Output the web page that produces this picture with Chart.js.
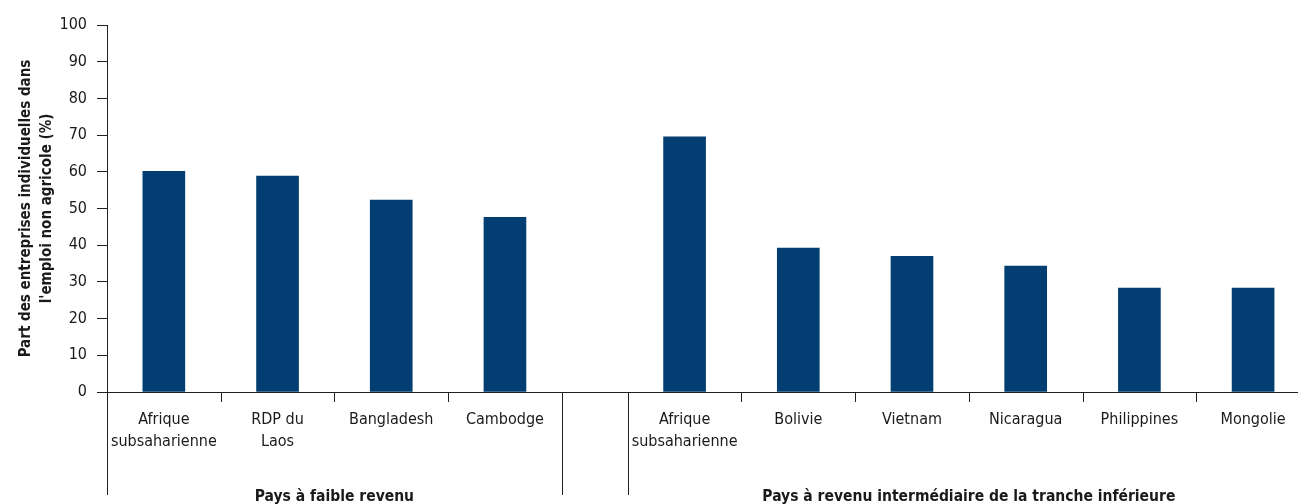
<!DOCTYPE html>
<html>
<head>
<meta charset="utf-8">
<script src="https://cdn.jsdelivr.net/npm/chart.js@4"></script>
<style>
html,body{margin:0;padding:0;background:#fff;}
#wrap{width:1298px;height:504px;}
</style>
</head>
<body>
<div id="wrap"><canvas id="c" width="1298" height="504"></canvas></div>
<script>
// ---- data ----
const groupNames = ['Pays à faible revenu', 'Pays à revenu intermédiaire de la tranche inférieure'];
const lowIncomeLabels = [['Afrique', 'subsaharienne'], ['RDP du', 'Laos'], 'Bangladesh', 'Cambodge'];
const lowIncomeValues = [60.1, 58.8, 52.3, 47.6];
const lowerMiddleLabels = [['Afrique', 'subsaharienne'], 'Bolivie', 'Vietnam', 'Nicaragua', 'Philippines', 'Mongolie'];
const lowerMiddleValues = [69.5, 39.2, 37.0, 34.3, 28.3, 28.3];
const yTitle = ['Part des entreprises individuelles dans', "l'emploi non agricole (%)"];

// ---- layout helpers (category index positions on a linear axis) ----
const GAP = 0.58;             // width of the empty slot between the two groups, in category units
const X_MAX = 10.475;         // visible extent of the category axis, in category units
const g2Start = lowIncomeValues.length + GAP;
const points = [];
const tickLabels = [];
lowIncomeValues.forEach((v, i) => { points.push({x: i + 0.5, y: v}); tickLabels.push(lowIncomeLabels[i]); });
lowerMiddleValues.forEach((v, i) => { points.push({x: g2Start + i + 0.5, y: v}); tickLabels.push(lowerMiddleLabels[i]); });
const tickPositions = points.map(p => p.x);

const FONT = "'Liberation Sans Narrow', 'DejaVu Sans Condensed', 'Roboto Condensed', sans-serif";
const TEXT = '#1a1a1a';
const LINE = '#222222';

const groupsPlugin = {
  id: 'groups',
  afterDraw(chart) {
    const {ctx, scales: {x, y}} = chart;
    const y0 = y.getPixelForValue(0);
    const sepBottom = 495;
    ctx.save();
    ctx.strokeStyle = LINE;
    ctx.lineWidth = 1;
    // small tick marks between categories
    const inner = [];
    for (let i = 1; i < lowIncomeValues.length; i++) inner.push(i);
    for (let i = 1; i < lowerMiddleValues.length; i++) inner.push(g2Start + i);
    inner.forEach(v => {
      const px = Math.round(x.getPixelForValue(v)) + 0.5;
      ctx.beginPath(); ctx.moveTo(px, y0); ctx.lineTo(px, y0 + 10); ctx.stroke();
    });
    // long separators
    [0, lowIncomeValues.length, g2Start].forEach(v => {
      const px = Math.round(x.getPixelForValue(v)) + 0.5;
      ctx.beginPath(); ctx.moveTo(px, y0); ctx.lineTo(px, sepBottom); ctx.stroke();
    });
    // group labels
    ctx.fillStyle = TEXT;
    ctx.font = "bold 15.5px " + FONT;
    ctx.textAlign = 'center';
    ctx.textBaseline = 'alphabetic';
    const c1 = (x.getPixelForValue(0) + x.getPixelForValue(lowIncomeValues.length)) / 2;
    const c2 = (x.getPixelForValue(g2Start) + x.getPixelForValue(g2Start + lowerMiddleValues.length)) / 2;
    ctx.fillText(groupNames[0], c1, 501);
    ctx.fillText(groupNames[1], c2, 501);
    ctx.restore();
  }
};

new Chart(document.getElementById('c'), {
  type: 'bar',
  data: {
    datasets: [{
      data: points,
      backgroundColor: '#023e71',
      borderWidth: 0,
      barThickness: 42
    }]
  },
  options: {
    responsive: false,
    devicePixelRatio: 1,
    animation: false,
    layout: {padding: {left: 8, top: 25, right: 0, bottom: 0}},
    plugins: {legend: {display: false}, tooltip: {enabled: false}},
    scales: {
      x: {
        type: 'linear',
        offset: false,
        min: 0,
        max: X_MAX,
        grid: {display: false, drawTicks: true, tickLength: 17},
        border: {display: true, color: LINE, width: 1},
        afterBuildTicks(scale) { scale.ticks = tickPositions.map(v => ({value: v})); },
        afterFit(scale) { scale.height = 112; scale.paddingRight = 0; },
        ticks: {
          autoSkip: false,
          maxRotation: 0,
          minRotation: 0,
          padding: 0,
          color: TEXT,
          font: {family: FONT, size: 16, lineHeight: 1.35},
          callback: (value, index) => tickLabels[index]
        }
      },
      y: {
        min: 0,
        max: 100,
        grid: {display: true, drawOnChartArea: false, drawTicks: true, tickLength: 10, color: LINE, lineWidth: 1},
        border: {display: true, color: LINE, width: 1},
        afterFit(scale) { scale.width = 99; },
        ticks: {
          stepSize: 10,
          padding: 10,
          color: TEXT,
          font: {family: FONT, size: 16}
        },
        title: {
          display: true,
          text: yTitle,
          color: TEXT,
          padding: {top: 7.5, bottom: 0},
          font: {family: FONT, size: 15, weight: 'bold', lineHeight: 1.4}
        }
      }
    }
  },
  plugins: [groupsPlugin]
});
</script>
</body>
</html>
